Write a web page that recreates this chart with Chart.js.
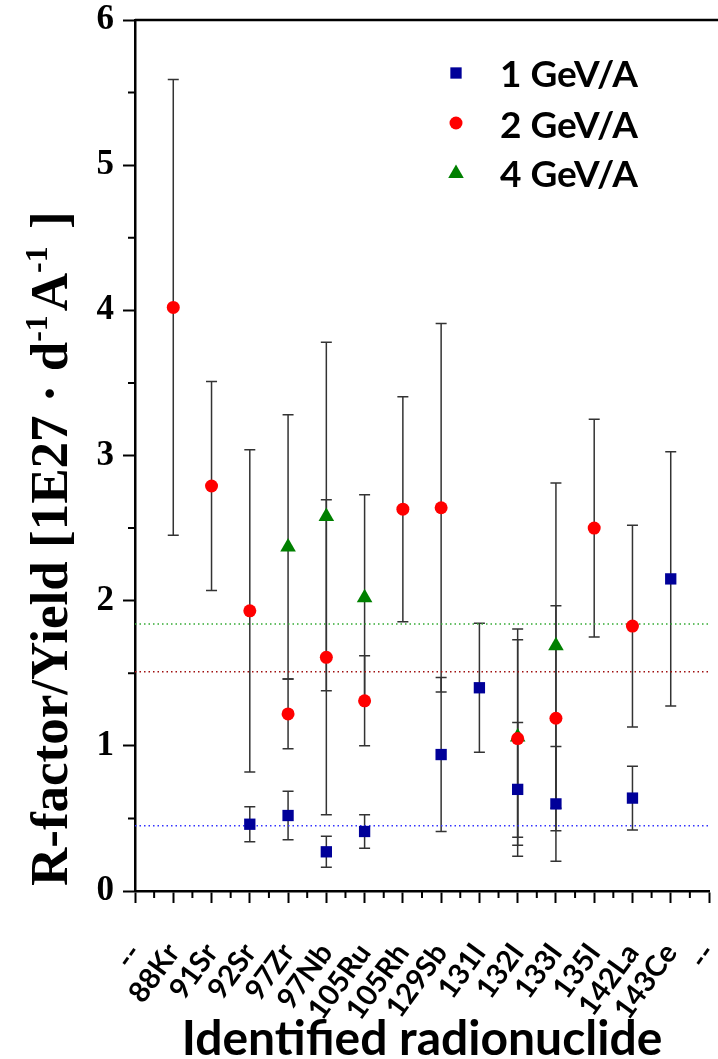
<!DOCTYPE html>
<html><head><meta charset="utf-8">
<script src="https://cdn.jsdelivr.net/npm/chart.js@4.4.1/dist/chart.umd.min.js"></script>
<style>html,body{margin:0;padding:0;background:#fff;overflow:hidden;} canvas{display:block;}</style>
</head><body>
<canvas id="c" width="718" height="1059"></canvas>
<script>
// ---- data ----
const nuclides = ['88Kr','91Sr','92Sr','97Zr','97Nb','105Ru','105Rh','129Sb','131I','132I','133I','135I','142La','143Ce'];
const tickLabels = ['--','88Kr','91Sr','92Sr','97Zr','97Nb','105Ru','105Rh','129Sb','131I','132I','133I','135I','142La','143Ce','--'];
const seriesNames = ['1 GeV/A','2 GeV/A','4 GeV/A'];
const gev1    = [null, null, 0.46, 0.52, 0.27, 0.41, null, 0.94, 1.40, 0.70, 0.60, null, 0.64, 2.15];
const gev1Err = [null, null, 0.12, 0.167,0.107,0.116,null, 0.53, 0.445,0.46, 0.395,null, 0.22, 0.875];
const gev2    = [4.02, 2.79, 1.93, 1.22, 1.61, 1.31, 2.63, 2.64, null, 1.05, 1.19, 2.50, 1.825, null];
const gev2Err = [1.57, 0.72, 1.11, 0.24, 1.085,0.31, 0.775,1.27, null, 0.68, 0.775,0.75, 0.695, null];
const gev4    = [null, null, null, 2.37, 2.58, 2.02, null, null, null, 1.06, 1.69, null, null, null];
const gev4Err = [null, null, null, 0.91, 1.20, 0.71, null, null, null, 0.745,1.12, null, null, null];
const meanValues = [0.45, 1.51, 1.84];
const yTicks = [0,1,2,3,4,5,6];
const yTitleParts = [['R-factor/Yield [1E27 · d',0],['-1',1],['A',0],['-1',1],[' ]',0]];

const colors = ['#000099','#ff0000','#008000'];
const meanColors = ['#3333ff','#a01010','#33aa33'];
const styles = ['rect','circle','triangle'];
const radii = [8, 6.5, 9];

function pts(vals){ return vals.map((v,i)=> v===null?null:{x:i+1,y:v}).filter(p=>p); }
function errs(vals,e){ return vals.map((v,i)=> v===null?null:{x:i+1,y:v,e:e[i]}).filter(p=>p); }
const errorSets = [errs(gev1,gev1Err), errs(gev2,gev2Err), errs(gev4,gev4Err)];

const FONT = 'Lato, "Open Sans", sans-serif';
const SERIF = '"Liberation Serif", "Times New Roman", serif';

const errorBarPlugin = {
  id:'errbars',
  beforeDatasetsDraw(chart){
    const {ctx, scales:{x,y}} = chart;
    ctx.save();
    ctx.strokeStyle = '#333';
    ctx.lineWidth = 1.5;
    errorSets.forEach(set=>{
      set.forEach(p=>{
        const px = x.getPixelForValue(p.x);
        const top = y.getPixelForValue(p.y + p.e);
        const bot = y.getPixelForValue(p.y - p.e);
        ctx.beginPath();
        ctx.moveTo(px, top); ctx.lineTo(px, bot);
        ctx.moveTo(px-5.5, top); ctx.lineTo(px+5.5, top);
        ctx.moveTo(px-5.5, bot); ctx.lineTo(px+5.5, bot);
        ctx.stroke();
      });
    });
    ctx.restore();
  }
};

const framePlugin = {
  id:'frame',
  afterDraw(chart){
    const {ctx, chartArea:a, scales:{x,y}} = chart;
    ctx.save();
    ctx.strokeStyle = '#000';
    ctx.lineWidth = 2.5;
    ctx.beginPath();
    ctx.moveTo(a.left, a.top); ctx.lineTo(chart.width+2, a.top);
    ctx.stroke();
    ctx.lineWidth = 2;
    ctx.beginPath();
    for(let i=0;i<tickLabels.length-1;i++){
      const px = x.getPixelForValue(i+0.5);
      ctx.moveTo(px, a.bottom); ctx.lineTo(px, a.bottom+7);
    }
    for(let k=0;k<yTicks.length-1;k++){
      const py = y.getPixelForValue(yTicks[k]+0.5);
      ctx.moveTo(a.left, py); ctx.lineTo(a.left-7, py);
    }
    ctx.stroke();
    // legend
    const markerY = [73, 123, 173.5];
    const textBase = [87, 138, 187];
    seriesNames.forEach((name,i)=>{
      ctx.fillStyle = colors[i];
      ctx.strokeStyle = colors[i];
      Chart.helpers.drawPoint(ctx, {pointStyle:styles[i], radius:radii[i], rotation:0, borderWidth:0}, 456, markerY[i]);
      ctx.fillStyle = '#000';
      ctx.font = 'bold 37px ' + FONT;
      ctx.textBaseline = 'alphabetic';
      ctx.textAlign = 'left';
      ctx.fillText(name, 500, textBase[i]);
    });
    // y axis title (with superscripts)
    ctx.translate(67, 886);
    ctx.rotate(-Math.PI/2);
    ctx.fillStyle = '#000';
    ctx.textBaseline = 'alphabetic';
    let cx = 0;
    yTitleParts.forEach(([t,sup])=>{
      ctx.font = sup ? 'bold 32px ' + SERIF : 'bold 53px ' + SERIF;
      ctx.fillText(t, cx, sup ? -20 : 0);
      cx += ctx.measureText(t).width + (sup ? 4 : 0);
    });
    ctx.restore();
  }
};

const datasets = [];
[gev1,gev2,gev4].forEach((vals,i)=>{
  datasets.push({
    label: seriesNames[i], data: pts(vals), showLine:false,
    pointStyle: styles[i], pointRadius: radii[i], pointHoverRadius: radii[i],
    backgroundColor: colors[i], borderColor: colors[i], pointBorderWidth: 0
  });
});
meanValues.forEach((m,i)=>{
  datasets.push({
    label:'mean'+i, data:[{x:0,y:m},{x:tickLabels.length-1,y:m}], showLine:true,
    borderColor: meanColors[i], borderWidth:1.5, borderDash:[1.5,3], pointRadius:0
  });
});

new Chart(document.getElementById('c'), {
  type:'scatter',
  data:{datasets},
  plugins:[errorBarPlugin, framePlugin],
  options:{
    responsive:false, animation:false,
    layout:{padding:{top:20, right:1, left:0, bottom:0}},
    plugins:{legend:{display:false}, tooltip:{enabled:false}},
    scales:{
      x:{
        type:'linear', position:'bottom', min:0, max:tickLabels.length-1,
        afterBuildTicks(s){ s.ticks = tickLabels.map((_,i)=>({value:i})); },
        afterFit(s){ s.height = 168; s.paddingLeft = 0; s.paddingRight = 0; },
        ticks:{ autoSkip:false, minRotation:54, maxRotation:54, padding:34, color:'#000',
          font:{family:FONT, weight:'bold', size:29},
          callback:(v)=> tickLabels[v] !== undefined ? tickLabels[v] : '' },
        grid:{ drawOnChartArea:false, drawTicks:true, tickLength:12, tickWidth:2, tickColor:'#000' },
        border:{ color:'#000', width:2.5 },
        title:{ display:true, text:'Identified radionuclide', color:'#000',
          font:{family:FONT, weight:'bold', size:48}, padding:{top:0,bottom:-9} }
      },
      y:{
        type:'linear', min:0, max:6,
        afterBuildTicks(s){ s.ticks = yTicks.map(v=>({value:v})); },
        afterFit(s){ s.width = 135; s.paddingTop = 0; s.paddingBottom = 0; },
        ticks:{ color:'#000', padding:9, font:{family:SERIF, weight:'bold', size:35} },
        grid:{ drawOnChartArea:false, drawTicks:true, tickLength:12, tickWidth:2, tickColor:'#000' },
        border:{ color:'#000', width:2.5 },
        title:{ display:false }
      }
    }
  }
});
</script>
</body></html>
